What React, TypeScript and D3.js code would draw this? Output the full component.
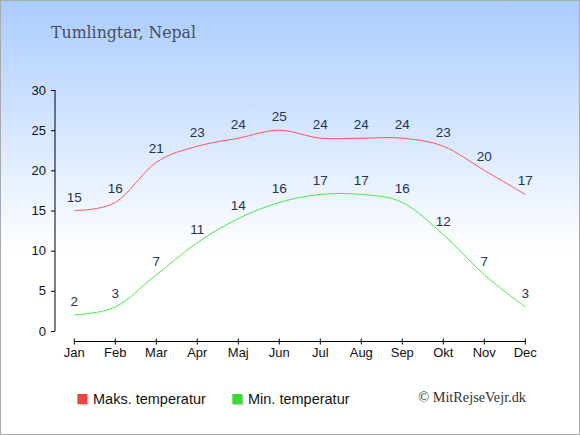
import React from "react";
import * as d3 from "d3";

const months = ["Jan", "Feb", "Mar", "Apr", "Maj", "Jun", "Jul", "Aug", "Sep", "Okt", "Nov", "Dec"];
const maxTemp = [15, 16, 21, 23, 24, 25, 24, 24, 24, 23, 20, 17];
const minTemp = [2, 3, 7, 11, 14, 16, 17, 17, 16, 12, 7, 3];
const yTicks = [0, 5, 10, 15, 20, 25, 30];
const title = "Tumlingtar, Nepal";
const legendMax = "Maks. temperatur";
const legendMin = "Min. temperatur";
const credit = "© MitRejseVejr.dk";

const W = 580;
const H = 435;

export default function App() {
  const x = d3.scalePoint<string>().domain(months).range([74.3, 525.3]);
  const y = d3.scaleLinear().domain([0, 30]).range([331, 90]);
  const line = d3
    .line<number>()
    .x((_, i) => x(months[i]) as number)
    .y((d) => y(d))
    .curve(d3.curveCardinal.tension(0));

  const sans = "'Liberation Sans', Arial, sans-serif";
  const serif = "'DejaVu Serif', serif";
  const labelColor = "#223355";

  return (
    <svg width={W} height={H} style={{ position: "absolute", left: 0, top: 0 }}>
      <defs>
        <linearGradient id="bg" x1="0" y1="0" x2="0" y2="1">
          <stop offset="0" stopColor="#aaccff" />
          <stop offset="0.58" stopColor="#ffffff" />
          <stop offset="1" stopColor="#ffffff" />
        </linearGradient>
      </defs>
      <rect x={0.5} y={0.5} width={W - 1} height={H - 1} fill="url(#bg)" stroke="#aaaaaa" strokeWidth={1} />
      <text x={51} y={38} fontFamily={serif} fontSize={16} textLength={145} lengthAdjust="spacingAndGlyphs" fill="#4a4f5a">
        {title}
      </text>

      {/* Y axis */}
      <line x1={55} x2={55} y1={y(30)} y2={y(0)} stroke="#000" strokeWidth={1} />
      {yTicks.map((t) => (
        <g key={t}>
          <line x1={51} x2={55} y1={y(t) + 0.5} y2={y(t) + 0.5} stroke="#000" />
          <text x={46} y={y(t) + 4.5} textAnchor="end" fontFamily={sans} fontSize={13} fill="#111">
            {t}
          </text>
        </g>
      ))}

      {/* X axis */}
      <line x1={x(months[0])} x2={x(months[11])} y1={341.5} y2={341.5} stroke="#000" />
      {months.map((m) => (
        <g key={m}>
          <line x1={(x(m) as number)} x2={(x(m) as number)} y1={338.5} y2={344.5} stroke="#000" />
          <text x={x(m)} y={357} textAnchor="middle" fontFamily={sans} fontSize={13} fill="#111">
            {m}
          </text>
        </g>
      ))}

      <path d={line(maxTemp) || ""} fill="none" stroke="#ff5555" strokeWidth={1} />
      <path d={line(minTemp) || ""} fill="none" stroke="#44ee44" strokeWidth={1} />

      {maxTemp.map((v, i) => (
        <text key={"mx" + i} x={x(months[i])} y={y(v) - 9} textAnchor="middle" fontFamily={sans} fontSize={13.5} fill={labelColor}>
          {v}
        </text>
      ))}
      {minTemp.map((v, i) => (
        <text key={"mn" + i} x={x(months[i])} y={y(v) - 9} textAnchor="middle" fontFamily={sans} fontSize={13.5} fill={labelColor}>
          {v}
        </text>
      ))}

      {/* Legend */}
      <rect x={78.5} y={395.5} width={10} height={10} fill="#cccccc" />
      <rect x={77.3} y={394} width={10} height={10} fill="#ee4444" />
      <text x={93} y={403.5} fontFamily={sans} fontSize={14.5} fill="#111">
        {legendMax}
      </text>
      <rect x={233.5} y={395.5} width={10} height={10} fill="#cccccc" />
      <rect x={232.3} y={394} width={10} height={10} fill="#33dd33" />
      <text x={248} y={403.5} fontFamily={sans} fontSize={14.5} fill="#111">
        {legendMin}
      </text>
      <text x={526} y={402} textAnchor="end" fontFamily="'Liberation Serif', 'Times New Roman', serif" fontSize={14.3} fill="#333">
        {credit}
      </text>
    </svg>
  );
}
